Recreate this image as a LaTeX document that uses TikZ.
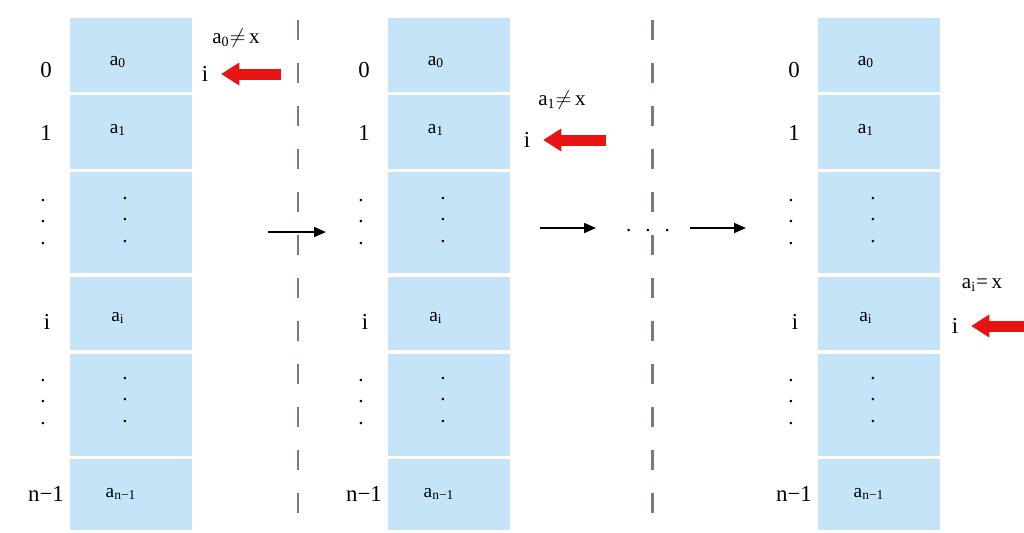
\documentclass[tikz,border=0pt]{standalone}
\usepackage{fontspec}
\setmainfont{Liberation Serif}
\usetikzlibrary{arrows.meta}
\definecolor{cellblue}{RGB}{198,228,247}
\definecolor{sepgray}{RGB}{112,128,122}
\definecolor{markred}{RGB}{232,20,20}
\tikzset{
  cell/.style={fill=cellblue, minimum width=2.44cm, inner sep=0pt},
  idxlabel/.style={font=\fontsize{13}{13}\selectfont, inner sep=1pt},
  celltext/.style={font=\fontsize{11}{11}\selectfont, inner sep=1pt},
  vdotsbox/.style={font=\fontsize{12}{12}\selectfont, align=center, inner sep=0pt},
  condlabel/.style={font=\fontsize{12}{12}\selectfont, inner sep=1pt},
  ptrarrow/.style={-{Triangle[length=3.6mm,width=4.6mm,line width=0pt]}, line width=2.2mm, markred},
  steparrow/.style={-{Triangle[length=2.4mm,width=2mm]}, line width=1.1pt},
  sepline/.style={sepgray, line width=1.7pt, dash pattern=on 0.4cm off 0.46cm}
}
\begin{document}
\begin{tikzpicture}[x=0.02cm, y=-0.02cm]
\useasboundingbox (0,0) rectangle (1024,532);
% the three snapshots of the array
\foreach \col/\x in {A/131, B/449, C/879} {
  \node[cell, minimum height=1.48cm] (\col-0) at (\x,55) {};
  \node[cell, minimum height=1.48cm] (\col-1) at (\x,132) {};
  \node[cell, minimum height=2.02cm] (\col-d1) at (\x,222.5) {};
  \node[cell, minimum height=1.46cm] (\col-i) at (\x,313.5) {};
  \node[cell, minimum height=2.04cm] (\col-d2) at (\x,405) {};
  \node[cell, minimum height=1.42cm] (\col-n) at (\x,494.5) {};
  \node[celltext] (\col-0val) at (\x-13,62) {a\textsubscript{0}};
  \node[celltext] (\col-1val) at (\x-13,130) {a\textsubscript{1}};
  \node[vdotsbox] (\col-d1val) at (\x-6,220) {.\\.\\.};
  \node[celltext] (\col-ival) at (\x-13,318) {a\textsubscript{i}};
  \node[vdotsbox] (\col-d2val) at (\x-6,400) {.\\.\\.};
  \node[celltext] (\col-nval) at (\x-10,494) {a\textsubscript{n−1}};
  \node[idxlabel] (\col-0idx) at (\x-85,70) {0};
  \node[idxlabel] (\col-1idx) at (\x-85,133) {1};
  \node[vdotsbox] (\col-d1idx) at (\x-88,222) {.\\.\\.};
  \node[idxlabel] (\col-iidx) at (\x-84,322) {i};
  \node[vdotsbox] (\col-d2idx) at (\x-88,402) {.\\.\\.};
  \node[idxlabel] (\col-nidx) at (\x-85,494) {n−1};
}
% separators
\coordinate (sep1top) at (298,20);
\coordinate (sep1bot) at (298,513);
\coordinate (sep2top) at (652,20);
\coordinate (sep2bot) at (652,513);
\draw[sepline] (sep1top) -- (sep1bot);
\draw[sepline] (sep2top) -- (sep2bot);
% comparisons and pointer i
\node[condlabel] (cond0) at (236,38) {a\textsubscript{0}$\neq$\,x};
\node[idxlabel] (ptr0) at (205,74) {i};
\coordinate (ptr0tail) at (281,74);
\draw[ptrarrow, shorten >=0.22cm] (ptr0tail) -- (ptr0tail -| ptr0.east);
\node[condlabel] (cond1) at (562,100) {a\textsubscript{1}$\neq$\,x};
\node[idxlabel] (ptr1) at (527,140) {i};
\coordinate (ptr1tail) at (606,140);
\draw[ptrarrow, shorten >=0.22cm] (ptr1tail) -- (ptr1tail -| ptr1.east);
\node[condlabel] (condi) at (982,285) {a\textsubscript{i}=\,x};
\node[idxlabel] (ptri) at (955,326) {i};
\coordinate (ptritail) at (1024,326);
\draw[ptrarrow, shorten >=0.22cm] (ptritail) -- (ptritail -| ptri.east);
% steps
\coordinate (s1a) at (268,232);
\coordinate (s1b) at (326,232);
\coordinate (s2a) at (540,228);
\coordinate (s2b) at (596,228);
\coordinate (s3a) at (690,228);
\coordinate (s3b) at (746,228);
\node[vdotsbox, anchor=base] (ell) at (648,231) {.\hspace{8pt}.\hspace{8pt}.};
\draw[steparrow] (s1a) -- (s1b);
\draw[steparrow] (s2a) -- (s2b);
\draw[steparrow] (s3a) -- (s3b);
\end{tikzpicture}
\end{document}
